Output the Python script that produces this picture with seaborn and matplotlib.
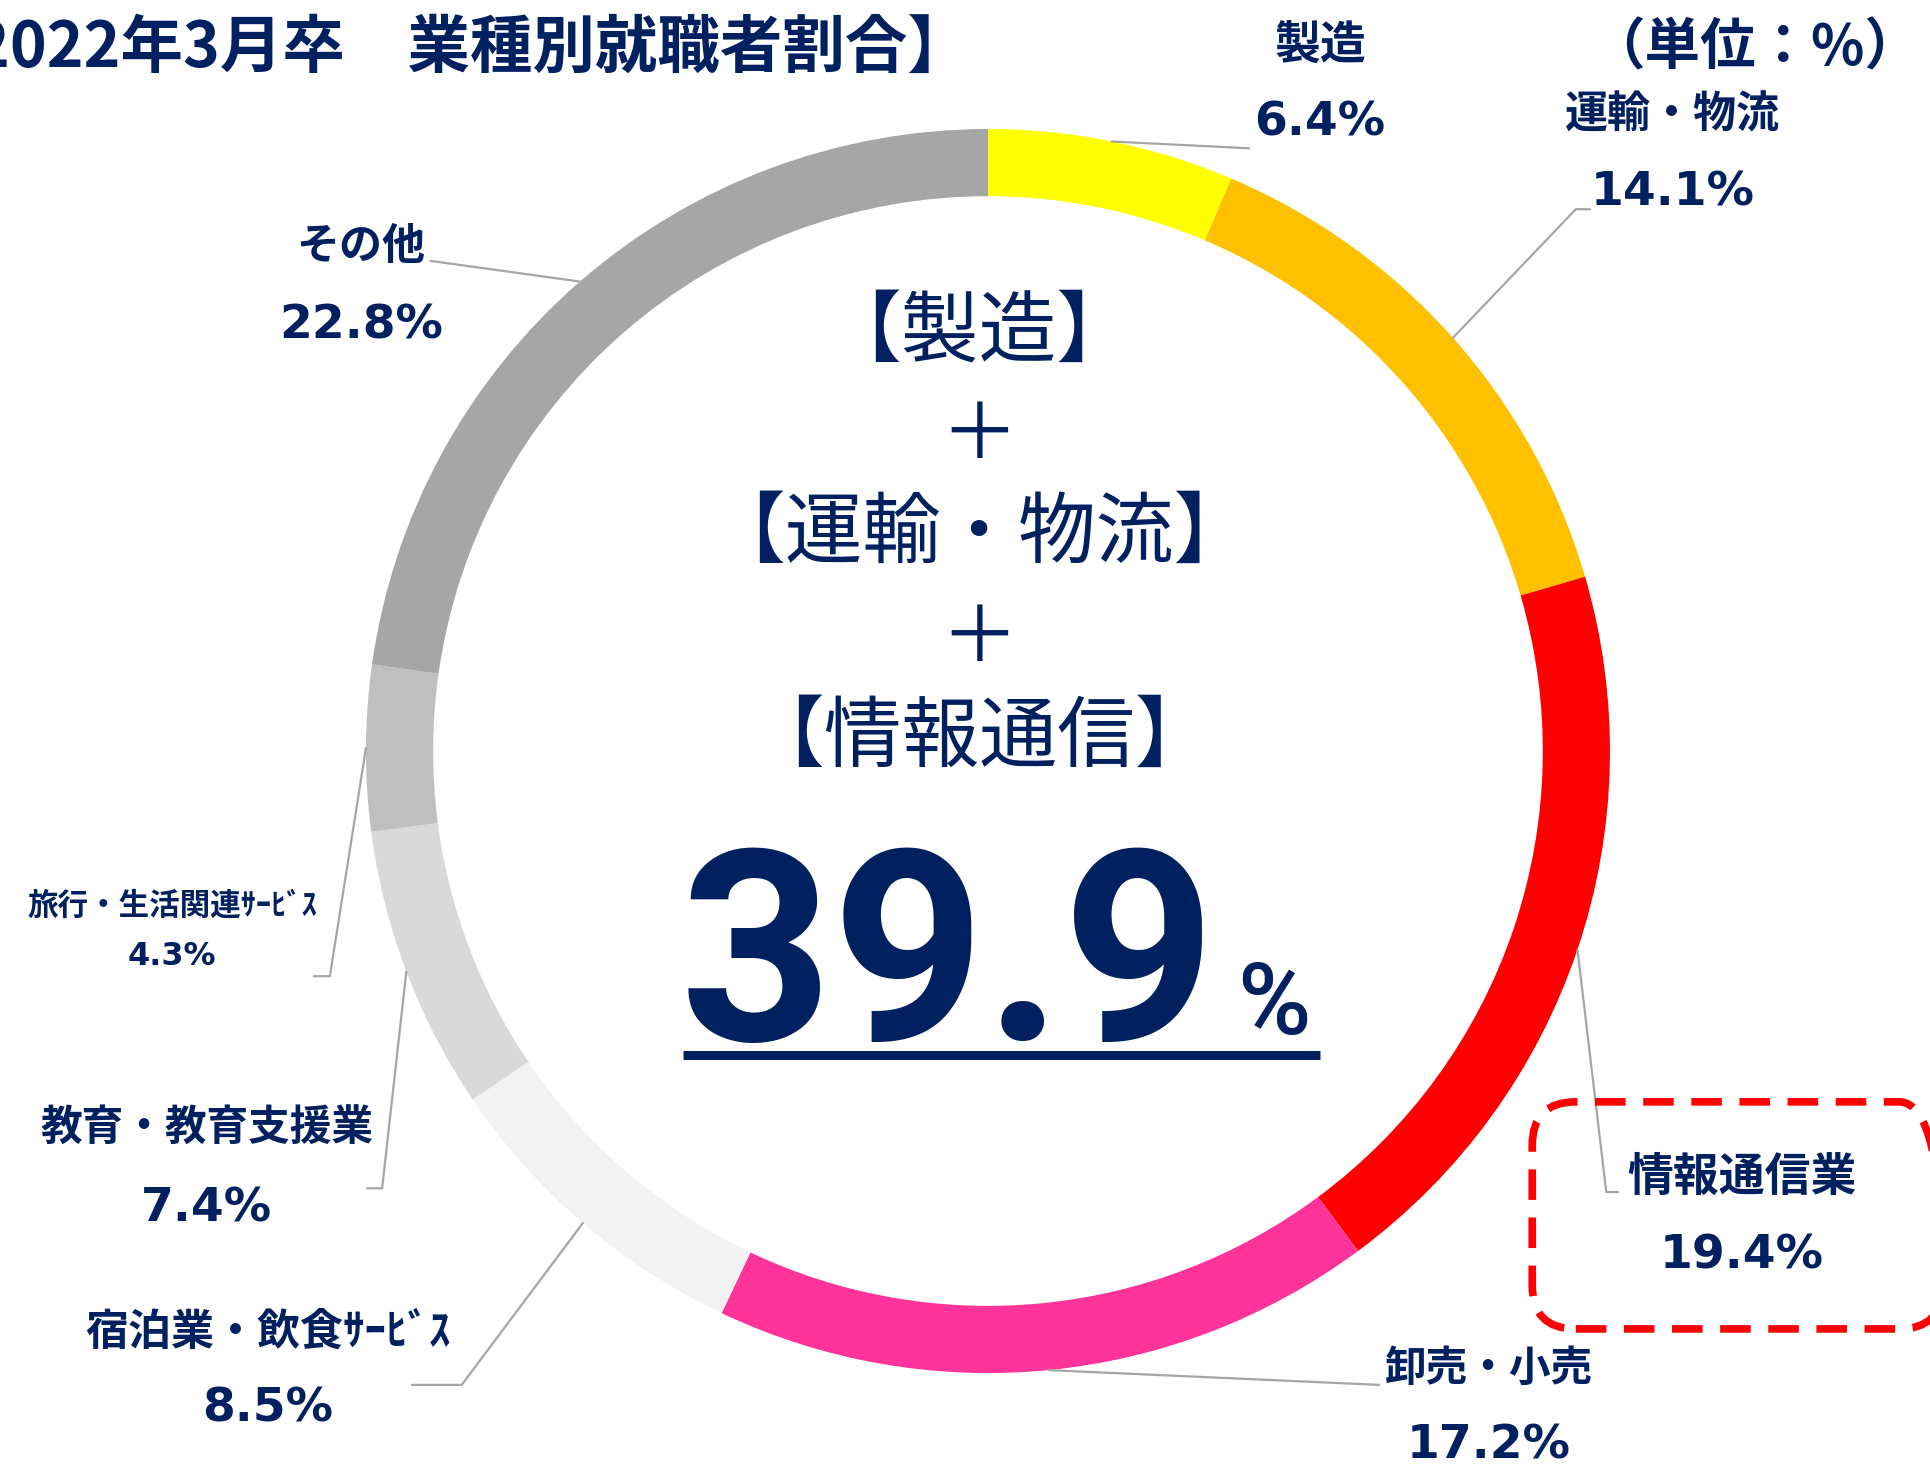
import numpy as np
import matplotlib
matplotlib.use("Agg")
import matplotlib.pyplot as plt
from matplotlib import font_manager
from matplotlib.patches import FancyBboxPatch
import seaborn as sns

# data
industries = ["製造", "運輸・物流", "情報通信業", "卸売・小売",
              "宿泊業・飲食ｻｰﾋﾞｽ", "教育・教育支援業", "旅行・生活関連ｻｰﾋﾞｽ", "その他"]
shares = [6.4, 14.1, 19.4, 17.2, 8.5, 7.4, 4.3, 22.8]
ring_colors = ["#FFFF00", "#FFC000", "#FF0000", "#FF3399",
               "#F2F2F2", "#D9D9D9", "#BFBFBF", "#A6A6A6"]
focus_groups = ["【製造】", "【運輸・物流】", "【情報通信】"]
focus_total = 39.9
title = "2022年3月卒　業種別就職者割合】"
unit_note = "（単位：%）"

NAVY = "#002060"

sns.set_theme(style="white")
plt.rcParams["font.family"] = ["Noto Sans CJK JP", "DejaVu Sans"]

names = {f.name for f in font_manager.fontManager.ttflist}
big_font = "Liberation Sans Narrow" if "Liberation Sans Narrow" in names else "Roboto"

fig = plt.figure(figsize=(19.30, 14.66), dpi=100)
ax = fig.add_axes([0.1896, 0.0634, 0.6446, 0.8486])

wedges, _ = ax.pie(shares, colors=ring_colors, startangle=90, counterclock=False,
                   radius=1.0, wedgeprops=dict(width=0.108, linewidth=0))
ax.set_xlim(-1, 1)
ax.set_ylim(-1, 1)
ax.set_aspect("equal")
ax.axis("off")

# label placement (name position, value position, font sizes, elbow points)
label_pos = [
    ((0.534, 1.132), (0.534, 1.010), 33, 34, [(0.420, 0.969)]),
    ((1.100, 1.024), (1.100, 0.897), 31, 34, [(0.945, 0.871), (0.968, 0.871)]),
    ((1.212, -0.686), (1.212, -0.812), 33, 34, [(0.994, -0.709), (1.013, -0.709)]),
    ((0.805, -0.994), (0.805, -1.117), 30, 34, [(0.629, -1.019)]),
    ((-1.158, -0.934), (-1.158, -1.058), 31, 34, [(-0.846, -1.019), (-0.926, -1.019)]),
    ((-1.256, -0.608), (-1.256, -0.736), 30, 34, [(-0.974, -0.703), (-0.998, -0.703)]),
    ((-1.312, -0.248), (-1.312, -0.330), 22, 23, [(-1.058, -0.362), (-1.084, -0.362)]),
    ((-1.008, 0.812), (-1.008, 0.683), 31, 34, [(-0.896, 0.788)]),
]

for w, name, val, (npos, vpos, nfs, vfs, elbow) in zip(wedges, industries, shares, label_pos):
    mid = np.deg2rad((w.theta1 + w.theta2) / 2)
    start = (np.cos(mid), np.sin(mid))
    pts = [start] + elbow
    xs, ys = zip(*pts)
    ax.plot(xs, ys, color="#A6A6A6", lw=1.6, clip_on=False, zorder=1)
    ax.text(*npos, name, ha="center", va="center", fontsize=nfs,
            fontweight="bold", color=NAVY)
    ax.text(*vpos, f"{val:.1f}%", ha="center", va="center", fontsize=vfs,
            fontweight="bold", color=NAVY, family="DejaVu Sans")

# highlight box around 情報通信業
box = FancyBboxPatch((0.875, -0.929), 0.66, 0.365,
                     boxstyle="round,pad=0,rounding_size=0.07",
                     fill=False, edgecolor="#FF0000", lw=5.5,
                     linestyle=(0, (4, 2.3)), clip_on=False, zorder=3)
ax.add_patch(box)

# centre text
ax.text(-0.0145, 0.67, focus_groups[0], ha="center", va="center",
        fontsize=56, color=NAVY)
ax.text(-0.0145, 0.505, "＋", ha="center", va="center", fontsize=56, color=NAVY)
ax.text(-0.0145, 0.347, focus_groups[1], ha="center", va="center",
        fontsize=56, color=NAVY)
ax.text(-0.0145, 0.178, "＋", ha="center", va="center", fontsize=56, color=NAVY)
ax.text(-0.0145, 0.019, focus_groups[2], ha="center", va="center",
        fontsize=56, color=NAVY)

ax.text(-0.064, -0.465, f"{focus_total:.1f}", ha="center", va="baseline",
        fontsize=205 if big_font != "Roboto" else 192, fontweight="bold",
        color=NAVY, family=big_font)
ax.text(0.46, -0.455, "%", ha="center", va="baseline", fontsize=72,
        fontweight="medium", color=NAVY, family=big_font)
ax.plot([-0.49, 0.534], [-0.489, -0.489], color=NAVY, lw=6.5,
        solid_capstyle="butt", clip_on=False)

# titles
fig.text(-0.014, 0.967, title, ha="left", va="center", fontsize=45,
         fontweight="bold", color=NAVY)
ax.text(1.232, 1.129, unit_note, ha="center", va="center", fontsize=40,
        fontweight="bold", color=NAVY)

fig.savefig("out.png", dpi=100, facecolor="white")
